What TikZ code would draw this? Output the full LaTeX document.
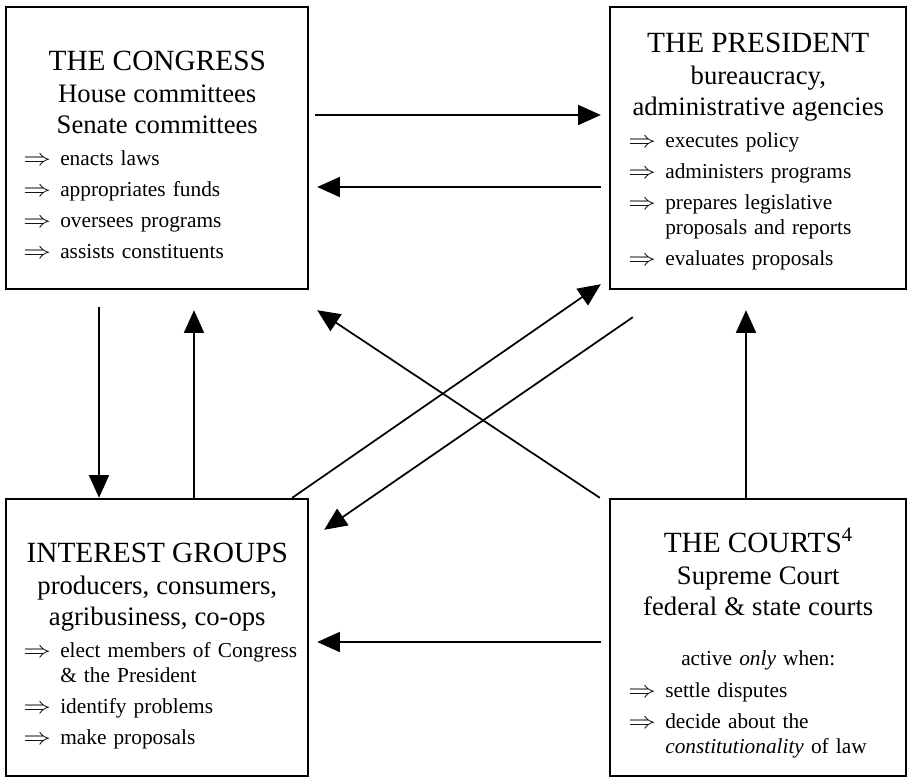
\documentclass[tikz,border=0pt]{standalone}
\usepackage{fontspec}
\usepackage{graphicx}
\setmainfont{Liberation Serif}
\usetikzlibrary{arrows.meta,calc}

\newcommand{\titlefont}{\centering\fontsize{22pt}{23.25pt}\selectfont}
\newcommand{\subfont}{\centering\fontsize{20pt}{23pt}\selectfont}
\newcommand{\duty}[2][4.5pt]{\par\vspace{#1}{\hangindent=27.75pt\hangafter=1\rightskip=-30pt plus 1fil\noindent\makebox[27.75pt][l]{\scalebox{1.2}[1]{$\Rightarrow$}}#2\par}}

\tikzset{
  govbox/.style={draw, line width=1.8pt, inner sep=0pt},
  boxtext/.style={anchor=base west, inner sep=0pt, align=left, font=\fontsize{16pt}{18.75pt}\selectfont},
  flow/.style={-{Triangle[length=17pt,width=15pt]}, line width=1.3pt}
}

\begin{document}
\begin{tikzpicture}[x=0.75pt,y=-0.75pt]
\useasboundingbox[fill=white] (0,0) rectangle (912,782);

% the four boxes
\node[govbox, minimum width=226.5pt, minimum height=211.5pt] (congress) at (157,148) {};
\node[govbox, minimum width=222pt, minimum height=211.5pt] (president) at (758,148) {};
\node[govbox, minimum width=226.5pt, minimum height=207.75pt] (interest) at (157,637.5) {};
\node[govbox, minimum width=222pt, minimum height=207.75pt] (courts) at (758,637.5) {};

% texts
\node[boxtext, text width=201pt] (congressText) at (23,70) {%
  {\titlefont THE CONGRESS\par}\vspace{1.5pt}
  {\subfont House committees\par Senate committees\par}
  \duty[5.25pt]{enacts laws}
  \duty{appropriates funds}
  \duty{oversees programs}
  \duty{assists constituents}};
\node[boxtext, text width=195pt] (presidentText) at (628,52) {%
  {\titlefont THE PRESIDENT\par}\vspace{1.5pt}
  {\subfont bureaucracy,\par administrative agencies\par}
  \duty[5.25pt]{executes policy}
  \duty{administers programs}
  \duty{prepares legislative\newline proposals and reports}
  \duty{evaluates proposals}};
\node[boxtext, text width=201pt] (interestText) at (23,562) {%
  {\titlefont INTEREST GROUPS\par}\vspace{1.5pt}
  {\subfont producers, consumers,\par agribusiness, co-ops\par}
  \duty[5.25pt]{elect members of Congress\newline \& the President}
  \duty{identify problems}
  \duty{make proposals}};
\node[boxtext, text width=195pt] (courtsText) at (628,552) {%
  {\titlefont THE COURTS\textsuperscript{4}\par}\vspace{1.5pt}
  {\subfont Supreme Court\par federal \& state courts\par}
  \vspace{18.75pt}
  {\centering active \textit{only} when:\par}
  \duty[5.25pt]{settle disputes}
  \duty{decide about the\newline \textit{constitutionality} of law}};

% connectors
\draw[flow] ($(congress.east)+(6,-33)$) -- ($(president.west)+(-8,-33)$);
\draw[flow] ($(president.west)+(-8,39)$) -- ($(congress.east)+(8,39)$);
\draw[flow] ($(congress.south)+(-58,17)$) -- ($(interest.north)+(-58,0)$);
\draw[flow] ($(interest.north)+(37,0)$) -- ($(congress.south)+(37,20)$);
\draw[flow] ($(courts.north)+(-12,0)$) -- ($(president.south)+(-12,20)$);
\draw[flow] ($(interest.north east)+(-17,0)$) -- ($(president.south west)+(-8,-6)$);
\draw[flow] ($(president.south west)+(24,27)$) -- ($(interest.north east)+(15,32)$);
\draw[flow] ($(courts.north west)+(-9,0)$) -- ($(congress.south east)+(8,20)$);
\draw[flow] ($(courts.west)+(-8,4.5)$) -- ($(interest.east)+(8,4.5)$);
\end{tikzpicture}
\end{document}
